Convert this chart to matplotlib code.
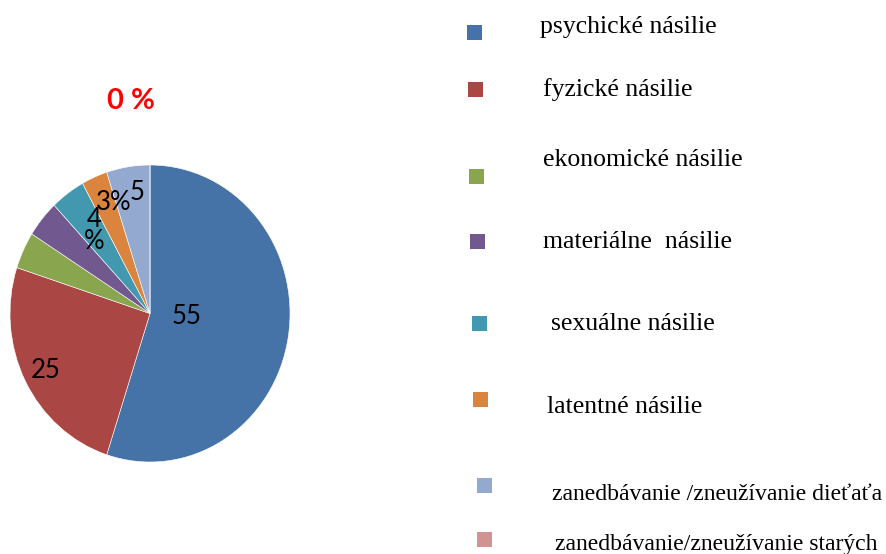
import matplotlib
matplotlib.use("Agg")
import matplotlib.pyplot as plt
from matplotlib.patches import Rectangle

# data
categories = ["psychické násilie", "fyzické násilie", "ekonomické násilie",
              "materiálne  násilie", "sexuálne násilie", "latentné násilie",
              "zanedbávanie /zneužívanie dieťaťa", "zanedbávanie/zneužívanie starých"]
values = [55, 25, 4, 4, 4, 3, 5, 0]
slice_labels = ["55", "25", "", "", "4\n%", "3%", "5", "0 %"]
colors = ["#4572A7", "#AA4643", "#89A54E", "#71588F", "#4198AF", "#DB843D", "#93A9CF", "#D19392"]

W, H = 887, 554
fig = plt.figure(figsize=(W / 100, H / 100), dpi=100)

# pie axes placed in pixels (slightly taller than wide, as in the picture)
px_l, px_r, px_t, px_b = 10, 290, 165, 462
ax = fig.add_axes([px_l / W, 1 - px_b / H, (px_r - px_l) / W, (px_b - px_t) / H])
wedges, _ = ax.pie(values, colors=colors, startangle=90, counterclock=False,
                   wedgeprops=dict(edgecolor="white", linewidth=0.4))
ax.set_aspect("auto")
ax.set_xlim(-1, 1)
ax.set_ylim(-1, 1)

# hand-placed value labels (in pie coords)
label_pos = [(0.264, -0.02), (-0.743, -0.384), None, None,
             (-0.40, 0.559), (-0.257, 0.747), (-0.093, 0.815), (-0.136, 1.434)]
for i, (lab, pos) in enumerate(zip(slice_labels, label_pos)):
    if pos is None or lab == "":
        continue
    if i == len(values) - 1:
        ax.text(pos[0], pos[1], lab, ha="center", va="center", color="#FF0000",
                fontsize=21, fontweight="bold", family="Lato", clip_on=False)
    else:
        ax.text(pos[0], pos[1], lab, ha="center", va="center", color="black",
                fontsize=18.5, family="Lato", linespacing=0.85, clip_on=False)

# legend drawn by hand on an overlay in pixel coordinates
lax = fig.add_axes([0, 0, 1, 1])
lax.set_xlim(0, W)
lax.set_ylim(H, 0)
lax.axis("off")
sq_centers = [(474.5, 32.5), (475.5, 89.5), (476.5, 176.5), (477.5, 241.5),
              (479.5, 323.5), (480.5, 399.5), (484.5, 485), (484.5, 539.5)]
txt_pos = [(540, 33), (543, 96), (543, 166), (543, 248),
           (551, 330), (547, 413), (552, 500), (555, 550)]
txt_size = [18.5, 18.5, 18.5, 18.5, 18.5, 18.5, 17.0, 17.0]
for name, c, (sx, sy), (tx, ty), fs in zip(categories, colors, sq_centers, txt_pos, txt_size):
    lax.add_patch(Rectangle((sx - 7.5, sy - 7.5), 15, 15, facecolor=c, edgecolor="none"))
    lax.text(tx, ty, name, ha="left", va="baseline", fontsize=fs,
             family="Liberation Serif", color="black")

fig.savefig("out.png", dpi=100)
